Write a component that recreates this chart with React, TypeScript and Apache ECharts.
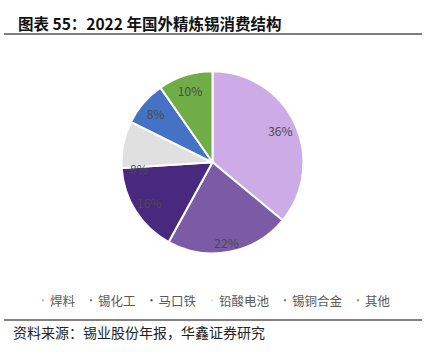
import React, { useEffect, useRef } from "react";
import * as echarts from "echarts";

const categories = ["焊料", "锡化工", "马口铁", "铅酸电池", "锡铜合金", "其他"];
const values = [36, 22, 16, 8.3, 8, 9.7];
const labels = ["36%", "22%", "16%", "8%", "8%", "10%"];
const colors = ["#CDABE6", "#7B5BA6", "#48297E", "#E0E0E0", "#4472C4", "#70AD47"];
const titleText = "图表 55：2022 年国外精炼锡消费结构";
const sourceText = "资料来源：锡业股份年报，华鑫证券研究";

const FONT = "'Noto Sans CJK SC', 'Noto Sans', sans-serif";

export default function App() {
  const ref = useRef<HTMLDivElement>(null);
  useEffect(() => {
    if (!ref.current) return;
    const chart = echarts.init(ref.current, undefined, { renderer: "svg" });
    const pieData = categories.map((name, i) => ({
      name,
      value: values[i],
      itemStyle: { color: colors[i] },
    }));
    const labelData = categories.map((name, i) => ({
      name,
      value: values[i],
      label: { formatter: labels[i] },
    }));
    chart.setOption({
      animation: false,
      textStyle: { fontFamily: FONT },
      title: {
        text: titleText,
        left: 13,
        top: 10,
        textStyle: { fontSize: 15.5, fontWeight: "bold", color: "#111", fontFamily: FONT },
      },
      legend: {
        data: categories,
        top: 289,
        left: "center",
        icon: "rect",
        itemWidth: 4,
        itemHeight: 4,
        itemGap: 13,
        textStyle: { fontSize: 12.5, color: "#595959", fontFamily: FONT },
      },
      graphic: [
        {
          type: "line",
          shape: { x1: 4, y1: 34, x2: 422, y2: 34 },
          style: { stroke: "#7f7f7f", lineWidth: 2 },
        },
        {
          type: "line",
          shape: { x1: 4, y1: 320, x2: 422, y2: 320 },
          style: { stroke: "#595959", lineWidth: 1.5 },
        },
        {
          type: "text",
          left: 13,
          top: 325,
          style: { text: sourceText, fontSize: 14, fill: "#222", fontFamily: FONT },
        },
      ],
      series: [
        {
          type: "pie",
          center: [212.5, 162.3],
          radius: [0, 91],
          startAngle: 90,
          clockwise: true,
          data: pieData,
          label: { show: false },
          labelLine: { show: false },
          itemStyle: { borderColor: "#fff", borderWidth: 2 },
          emphasis: { disabled: true },
        },
        {
          type: "pie",
          silent: true,
          center: [212.5, 162.3],
          radius: [53, 91],
          startAngle: 90,
          clockwise: true,
          data: labelData,
          itemStyle: { color: "rgba(0,0,0,0)" },
          label: {
            show: true,
            position: "inside",
            fontSize: 12,
            color: "#4a4a4a",
            fontFamily: FONT,
          },
          labelLine: { show: false },
          labelLayout: (params: any) => {
            if (params.dataIndex === 3) return { dy: 21 };
            if (params.dataIndex === 1) return { dy: 7 };
            return {};
          },
          emphasis: { disabled: true },
        },
      ],
    });
    return () => chart.dispose();
  }, []);
  return (
    <div
      ref={ref}
      style={{ position: "absolute", left: 0, top: 0, width: 430, height: 352, background: "#fff" }}
    />
  );
}
